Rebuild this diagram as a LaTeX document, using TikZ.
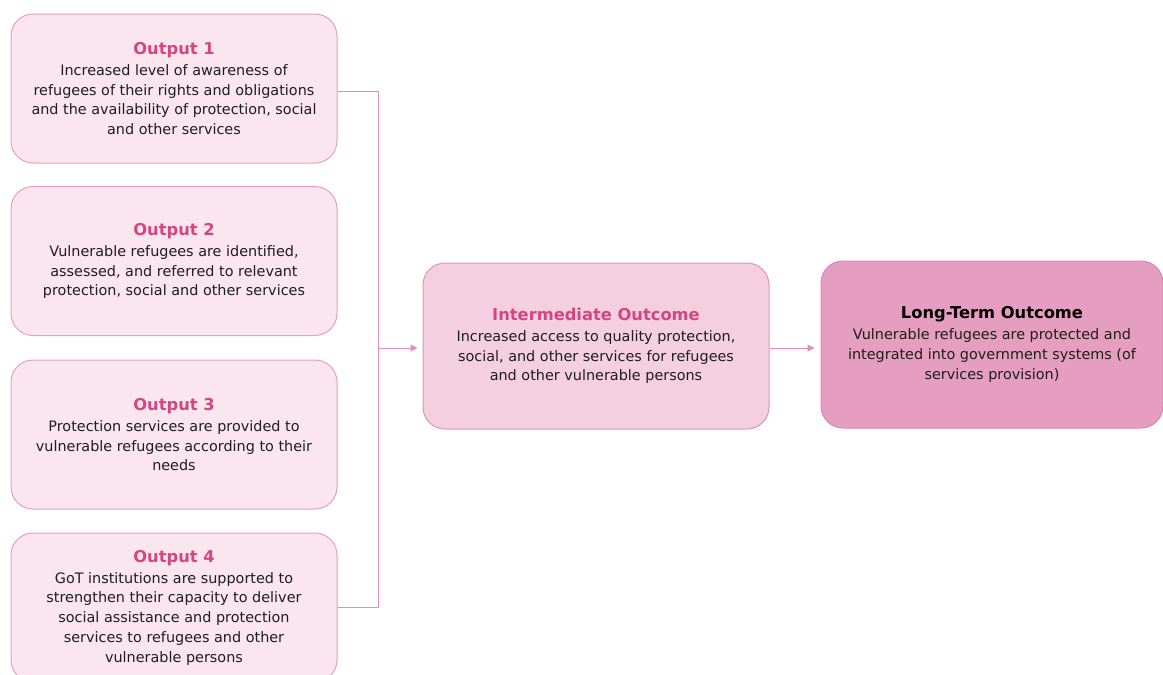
\documentclass[tikz,border=0pt]{standalone}
\usepackage{fontspec}
\setmainfont{DejaVu Sans}
\usetikzlibrary{arrows.meta}
\definecolor{titlepink}{HTML}{D5457F}
\definecolor{linepink}{HTML}{E48FB8}
\definecolor{outfill}{HTML}{FBE6EF}
\definecolor{outdraw}{HTML}{E2A2C0}
\definecolor{midfill}{HTML}{F4CFE0}
\definecolor{middraw}{HTML}{DF94B9}
\definecolor{longfill}{HTML}{E59DC0}
\definecolor{longdraw}{HTML}{D986AF}
\definecolor{bodytext}{HTML}{1E1E1E}
\newcommand{\boxtitle}[1]{{\fontsize{16.3}{20}\selectfont\bfseries #1}\\[1.5pt]}
\begin{document}
\begin{tikzpicture}[x=1pt,y=-1pt,
  card/.style={rectangle, rounded corners=22pt, line width=1pt, align=center,
    inner sep=0pt, text=bodytext,
    font=\fontsize{14.4}{19.7}\selectfont},
  outcard/.style={card, fill=outfill, draw=outdraw, minimum width=326pt, minimum height=149pt},
  midcard/.style={card, fill=midfill, draw=middraw, minimum width=346pt, minimum height=166pt},
  longcard/.style={card, fill=longfill, draw=longdraw, minimum width=342pt, minimum height=167pt},
  link/.style={draw=linepink, line width=1pt},
  arrowlink/.style={link, -{Triangle[length=7pt,width=7pt]}}
]
\useasboundingbox (0,0) rectangle (1163,675);
\begin{scope}
\clip (0,0) rectangle (1163,675);
\node[outcard] (o1) at (174,88.5) {\boxtitle{\textcolor{titlepink}{Output 1}}Increased level of awareness of\\refugees of their rights and obligations\\and the availability of protection, social\\and other services};
\node[outcard] (o2) at (174,261) {\boxtitle{\textcolor{titlepink}{Output 2}}Vulnerable refugees are identified,\\assessed, and referred to relevant\\protection, social and other services};
\node[outcard] (o3) at (174,434.5) {\boxtitle{\textcolor{titlepink}{Output 3}}Protection services are provided to\\vulnerable refugees according to their\\needs};
\node[outcard] (o4) at (174,607.5) {\boxtitle{\textcolor{titlepink}{Output 4}}GoT institutions are supported to\\strengthen their capacity to deliver\\social assistance and protection\\services to refugees and other\\vulnerable persons};
\end{scope}
\node[midcard] (mid) at (596,346) {\boxtitle{\textcolor{titlepink}{Intermediate Outcome}}Increased access to quality protection,\\social, and other services for refugees\\and other vulnerable persons};
\node[longcard] (long) at (992,344.5) {\boxtitle{\textcolor{black}{Long-Term Outcome}}Vulnerable refugees are protected and\\integrated into government systems (of\\services provision)};
% bracket gathering the outputs
\coordinate (top) at (378,91);
\coordinate (bot) at (378,607);
\coordinate (join) at (378,348);
\draw[link] (o1.east |- top) -- (top) -- (bot) -- (o4.east |- bot);
\draw[arrowlink] (join) -- ([xshift=-5pt]mid.west |- join);
\draw[arrowlink] (mid.east |- join) -- ([xshift=-6pt]long.west |- join);
\end{tikzpicture}
\end{document}
